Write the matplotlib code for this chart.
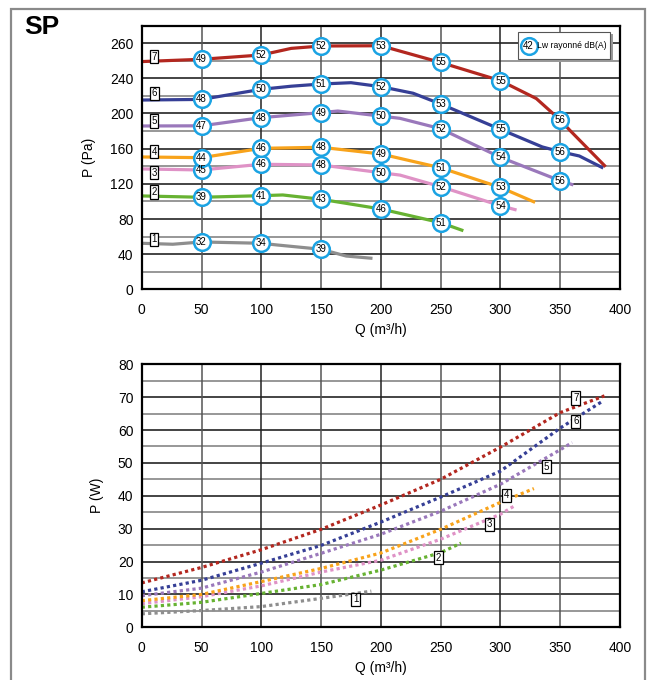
import numpy as np
import matplotlib.pyplot as plt
from matplotlib.patches import Rectangle

plt.rcParams['font.family'] = ['Liberation Sans', 'DejaVu Sans']

# ---- top chart: pressure curves (y in the drawn linear scale) ----
q_p1 = [0, 26, 50, 100, 113, 150, 171, 193]
p_p1 = [52.5, 51.4, 54, 52.5, 50.6, 45.7, 38, 35.4]
q_p2 = [0, 50, 100, 118, 150, 200, 250, 269]
p_p2 = [106.3, 104.8, 106.6, 107.4, 102.5, 91.5, 75.9, 66.8]
q_p3 = [0, 50, 100, 150, 200, 216, 250, 300, 313.5]
p_p3 = [137, 135.8, 142.3, 141.5, 132.7, 130, 116.8, 95.2, 90.3]
q_p4 = [0, 50, 100, 150, 200, 250, 300, 329]
p_p4 = [150.6, 149.8, 160.4, 161.6, 154, 138.3, 116, 99]
q_p5 = [0, 50, 100, 150, 164, 200, 216, 250, 300, 350, 361]
p_p5 = [185.8, 186, 195.3, 201, 202.8, 197, 194.5, 182.7, 150.2, 123.6, 118.8]
q_p6 = [0, 50, 100, 125, 150, 175, 200, 227, 250, 300, 335, 350, 366, 386]
p_p6 = [215.3, 216, 227.5, 231, 233.5, 235, 230.5, 223, 210.8, 182, 162, 156.6, 151.7, 138]
q_p7 = [0, 50, 100, 125, 150, 200, 250, 300, 330, 350, 358, 388]
p_p7 = [259, 261.6, 266.5, 274, 276.7, 277, 258, 237.3, 217, 192.6, 181, 139.5]

# sound power Lw rayonné dB(A) at Q = 50, 100, ... 350
lw_q = [50, 100, 150, 200, 250, 300, 350]
lw1 = [32, 34, 39]
lw2 = [39, 41, 43, 46, 51]
lw3 = [45, 46, 48, 50, 52, 54]
lw4 = [44, 46, 48, 49, 51, 53]
lw5 = [47, 48, 49, 50, 52, 54, 56]
lw6 = [48, 50, 51, 52, 53, 55, 56]
lw7 = [49, 52, 52, 53, 55, 55, 56]

# curve number boxes on the top chart
box_top_y = [57, 111, 132.7, 156.6, 191.5, 223, 264.6]

# ---- bottom chart: absorbed power (W) ----
q_w1 = [0, 50, 100, 150, 192]
w1 = [4.1, 5.1, 6.3, 8.8, 11]
q_w2 = [0, 50, 100, 150, 200, 250, 267]
w2 = [6.1, 7.6, 10.3, 13, 17.4, 22.7, 25.6]
q_w3 = [0, 50, 100, 150, 200, 250, 300, 313]
w3 = [7.2, 9.3, 12.6, 16.8, 20.4, 26.8, 34.4, 37.2]
q_w4 = [0, 50, 100, 150, 200, 250, 300, 328]
w4 = [8.1, 10.0, 13.9, 17.9, 22.6, 29.8, 38.0, 42.2]
q_w5 = [0, 50, 100, 150, 200, 250, 300, 350, 360]
w5 = [9.6, 11.9, 16.8, 22.5, 28.3, 35.3, 43.5, 54, 56.2]
q_w6 = [0, 50, 100, 150, 200, 250, 300, 350, 386]
w6 = [10.8, 14.3, 19.5, 24.9, 32.0, 39.6, 47.5, 60.6, 68.9]
q_w7 = [0, 50, 100, 150, 200, 250, 300, 350, 387]
w7 = [13.5, 18.2, 23.6, 29.8, 37.2, 45.0, 54.8, 65.3, 70.4]

box_bot_q = [179, 248, 290.7, 305, 338.6, 363, 363]
box_bot_w = [8.5, 21.2, 31.3, 40.1, 48.9, 62.6, 69.7]

colors = ['#8e8e8e', '#67b232', '#df92c6', '#f8a31b', '#9a78bb', '#363f96', '#b3271f']
ring = '#1ba3e3'

top_q = [q_p1, q_p2, q_p3, q_p4, q_p5, q_p6, q_p7]
top_p = [p_p1, p_p2, p_p3, p_p4, p_p5, p_p6, p_p7]
top_lw = [lw1, lw2, lw3, lw4, lw5, lw6, lw7]
bot_q = [q_w1, q_w2, q_w3, q_w4, q_w5, q_w6, q_w7]
bot_w = [w1, w2, w3, w4, w5, w6, w7]

fig = plt.figure(figsize=(6.54, 6.8), dpi=100)
fig.add_artist(Rectangle((0.017, -0.05), 0.969, 1.037, transform=fig.transFigure,
                         fill=False, ec='#8a8a8a', lw=1.6))
fig.text(0.037, 0.961, 'SP', fontsize=19, fontweight='bold', va='center')

ax1 = fig.add_axes([0.2167, 0.5743, 0.7313, 0.3882])
ax2 = fig.add_axes([0.2167, 0.0775, 0.7313, 0.3868])


def style(ax, ymax, ymaj, ymin, ylabels):
    ax.set_xlim(0, 400)
    ax.set_ylim(0, ymax)
    ax.set_xticks(np.arange(0, 401, 50))
    ax.set_yticks(ymaj)
    ax.set_yticklabels(ylabels)
    ax.set_yticks(ymin, minor=True)
    ax.tick_params(which='both', length=0, labelsize=10)
    ax.tick_params(axis='x', pad=10)
    ax.tick_params(axis='y', pad=6)
    for y in ymaj[1:]:
        ax.axhline(y, color='#111111', lw=1.1, zorder=0)
    for y in ymin:
        ax.axhline(y, color='#7a7a7a', lw=1.1, zorder=0)
    for i, x in enumerate(range(50, 400, 50)):
        ax.axvline(x, color='#222222' if i % 2 else '#555555', lw=1.1, zorder=0)
    for s in ax.spines.values():
        s.set_linewidth(1.6)


style(ax1, 300, [0, 40, 80, 120, 160, 200, 240, 280], list(range(20, 281, 40)),
      ['0', '40', '80', '120', '160', '200', '240', '260'])
style(ax2, 80, list(range(0, 81, 10)), list(range(5, 80, 10)),
      [str(v) for v in range(0, 81, 10)])

ax1.set_ylabel('P (Pa)', fontsize=10, labelpad=10)
ax1.set_xlabel('Q (m³/h)', fontsize=10, labelpad=4)
ax2.set_ylabel('P (W)', fontsize=10, labelpad=10)
ax2.set_xlabel('Q (m³/h)', fontsize=10, labelpad=4)

box = dict(boxstyle='square,pad=0.18', fc='white', ec='black', lw=0.9)

for i in range(7):
    ax1.plot(top_q[i], top_p[i], color=colors[i], lw=2.3, zorder=2,
             solid_capstyle='butt')
    mq = lw_q[:len(top_lw[i])]
    mp = np.interp(mq, top_q[i], top_p[i])
    ax1.plot(mq, mp, 'o', ms=12, mfc='white', mec=ring, mew=1.8, zorder=3)
    for x, y, v in zip(mq, mp, top_lw[i]):
        ax1.text(x, y, str(v), fontsize=7, ha='center', va='center', zorder=4)
    ax1.text(10.3, box_top_y[i], str(i + 1), fontsize=7, ha='center', va='center',
             bbox=box, zorder=4)

    ax2.plot(bot_q[i], bot_w[i], color=colors[i], lw=2.3, ls=(0, (1, 1)), zorder=2,
             dash_capstyle='butt')
    ax2.text(box_bot_q[i], box_bot_w[i], str(i + 1), fontsize=7, ha='center',
             va='center', bbox=box, zorder=4)

# legend box with shadow
ax1.add_patch(Rectangle((0.792, 0.862), 0.193, 0.105, transform=ax1.transAxes,
                        fc='#9a9a9a', ec='none', zorder=4))
ax1.add_patch(Rectangle((0.787, 0.872), 0.193, 0.105, transform=ax1.transAxes,
                        fc='white', ec='#555555', lw=0.8, zorder=5))
ax1.plot([0.809], [0.924], 'o', ms=12, mfc='white', mec=ring, mew=1.8,
         transform=ax1.transAxes, zorder=6)
ax1.text(0.809, 0.924, '42', fontsize=7, ha='center', va='center',
         transform=ax1.transAxes, zorder=7)
ax1.text(0.826, 0.924, 'Lw rayonné dB(A)', fontsize=6.2, ha='left', va='center',
         transform=ax1.transAxes, zorder=7)

fig.savefig('out.png', dpi=100)
